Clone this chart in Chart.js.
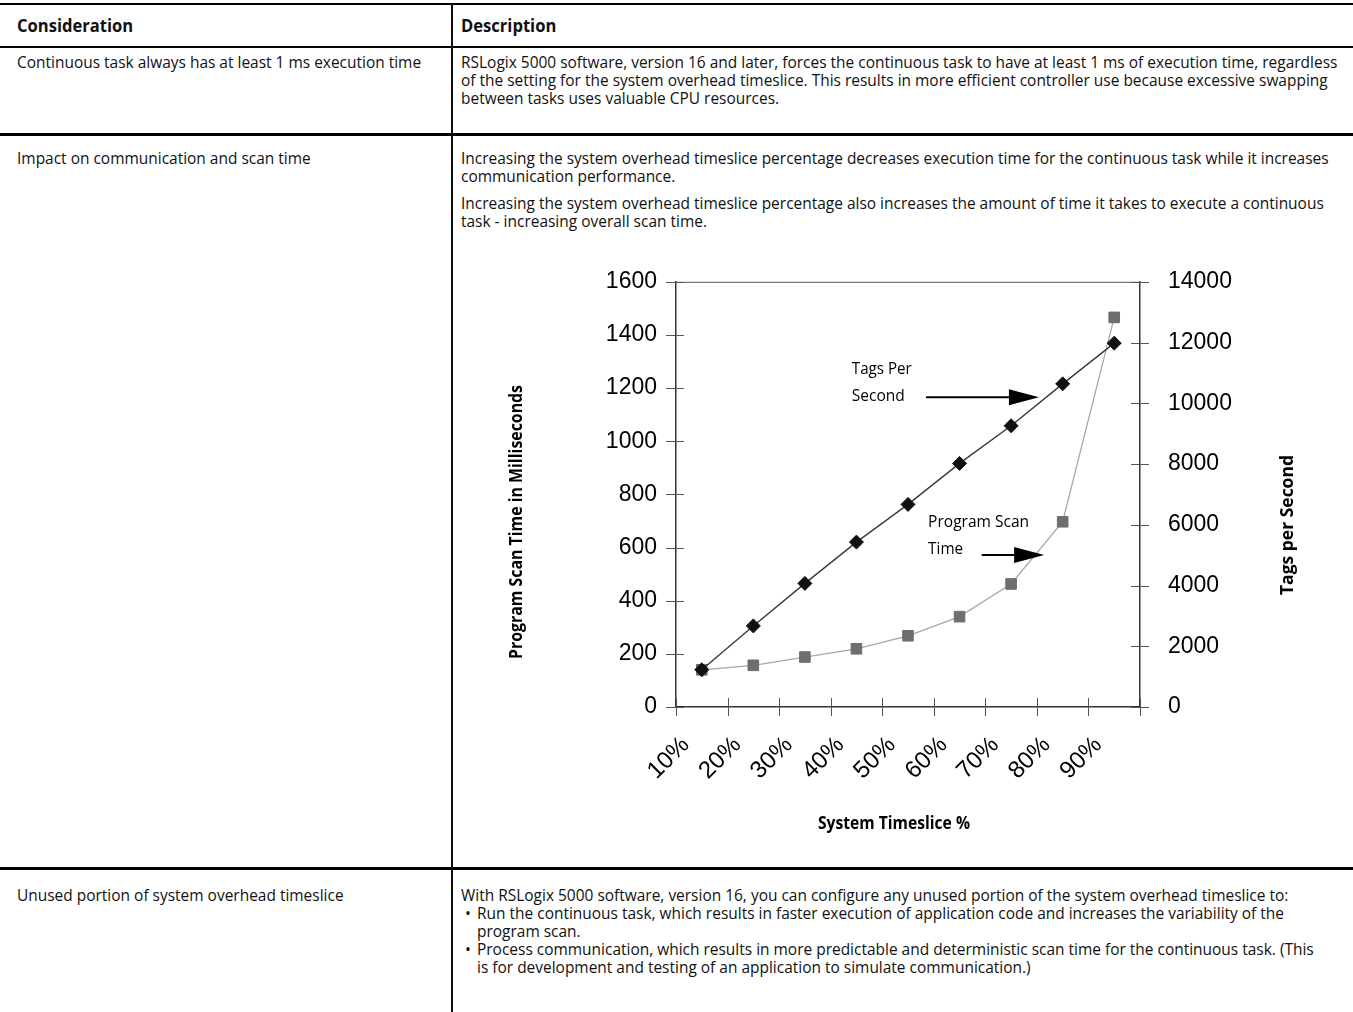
<!DOCTYPE html>
<html>
<head>
<meta charset="utf-8">
<script src="https://cdn.jsdelivr.net/npm/chart.js@4.4.0/dist/chart.umd.min.js"></script>
<style>
    body { margin: 0; background: #fff; width: 1353px; height: 1012px; position: relative; overflow: hidden;
           font-family: "Open Sans", sans-serif; font-size: 17px; color: #111; }
    .hl { position: absolute; left: 0; width: 1353px; background: #000; }
    .vl { position: absolute; left: 451px; top: 4px; width: 2px; height: 1008px; background: #111; }
    .t { position: absolute; white-space: nowrap; line-height: 18px; transform-origin: left center; }
    .b { font-weight: bold; }
    #wrap { position: absolute; left: 460px; top: 240px; width: 890px; height: 620px; }
</style>
</head>
<body>

<div class="hl" style="top:3px;height:2px"></div>
<div class="hl" style="top:46px;height:2px"></div>
<div class="hl" style="top:133px;height:3px"></div>
<div class="hl" style="top:867px;height:3px"></div>
<div class="vl"></div>

<div class="t b" id="hdr" style="left:17px;top:26px">Consideration</div>
<div class="t b" style="left:461px;top:26px">Description</div>

<div class="t" style="left:17px;top:62px">Continuous task always has at least 1 ms execution time</div>
<div class="t" id="ref" style="left:461px;top:62px">RSLogix 5000 software, version 16 and later, forces the continuous task to have at least 1 ms of execution time, regardless</div>
<div class="t" style="left:461px;top:80px">of the setting for the system overhead timeslice. This results in more efficient controller use because excessive swapping</div>
<div class="t" style="left:461px;top:98px">between tasks uses valuable CPU resources.</div>

<div class="t" style="left:17px;top:158px">Impact on communication and scan time</div>
<div class="t" style="left:461px;top:158px">Increasing the system overhead timeslice percentage decreases execution time for the continuous task while it increases</div>
<div class="t" style="left:461px;top:176px">communication performance.</div>
<div class="t" style="left:461px;top:203px">Increasing the system overhead timeslice percentage also increases the amount of time it takes to execute a continuous</div>
<div class="t" style="left:461px;top:221px">task - increasing overall scan time.</div>

<div class="t" style="left:17px;top:895px">Unused portion of system overhead timeslice</div>
<div class="t" style="left:461px;top:895px">With RSLogix 5000 software, version 16, you can configure any unused portion of the system overhead timeslice to:</div>
<div class="t" style="left:465px;top:913px">•</div>
<div class="t" style="left:477px;top:913px">Run the continuous task, which results in faster execution of application code and increases the variability of the</div>
<div class="t" style="left:477px;top:931px">program scan.</div>
<div class="t" style="left:465px;top:949px">•</div>
<div class="t" style="left:477px;top:949px">Process communication, which results in more predictable and deterministic scan time for the continuous task. (This</div>
<div class="t" style="left:477px;top:967px">is for development and testing of an application to simulate communication.)</div>

<div id="wrap"><canvas id="scanChart"></canvas></div>

<script>
const categories = ["10%", "20%", "30%", "40%", "50%", "60%", "70%", "80%", "90%"];
const tagsPerSecond = [1225, 2670, 4070, 5430, 6670, 8020, 9260, 10640, 11980];
const scanTimeMs = [140, 157, 188, 219, 268, 340, 463, 697, 1466];

const ARIAL = "'Liberation Sans', Arial, Helvetica, sans-serif";
const TICK_FONT = { family: ARIAL, size: 23 };
const TITLE_FONT = 'bold 18px "Open Sans", sans-serif';
const NOTE_FONT = '17px "Open Sans", sans-serif';

/* ---------- squeeze the table text to the narrow look of the original ---------- */
(function fitText() {
    const k = 876 / document.getElementById("ref").offsetWidth;
    const kb = 116 / document.getElementById("hdr").offsetWidth;
    document.querySelectorAll(".t").forEach(el => {
        const s = el.classList.contains("b") ? kb : k;
        el.style.transform = `translateY(-50%) scaleX(${s})`;
    });
})();

// draws text squeezed to a given width
function fitted(ctx, txt, width) {
    const w = ctx.measureText(txt).width;
    ctx.save();
    ctx.scale(width / w, 1);
    ctx.fillText(txt, 0, 0);
    ctx.restore();
}

/* ---------- frame, crossing ticks, titles, notes ---------- */
const framePlugin = {
    id: "frame",
    afterDraw(chart) {
        const ctx = chart.ctx;
        const a = chart.chartArea;
        const x = chart.scales.x, y = chart.scales.y, y2 = chart.scales.y2;

        ctx.save();
        ctx.strokeStyle = "#555";
        ctx.lineWidth = 1;

        // top border
        ctx.beginPath();
        ctx.moveTo(a.left, a.top + 0.5);
        ctx.lineTo(a.right, a.top + 0.5);
        ctx.stroke();

        // tick marks crossing the axes
        ctx.beginPath();
        for (let i = 0; i <= categories.length; i++) {
            const px = Math.round(x.getPixelForValue(i - 0.5)) + 0.5;
            ctx.moveTo(px, a.bottom - 9);
            ctx.lineTo(px, a.bottom + 9);
        }
        y.ticks.forEach((t, i) => {
            const py = Math.round(y.getPixelForTick(i)) + 0.5;
            ctx.moveTo(a.left - 10, py);
            ctx.lineTo(a.left + 8, py);
        });
        y2.ticks.forEach((t, i) => {
            const py = Math.round(y2.getPixelForTick(i)) + 0.5;
            ctx.moveTo(a.right - 9, py);
            ctx.lineTo(a.right + 9, py);
        });
        ctx.stroke();

        // axis titles
        ctx.fillStyle = "#000";
        ctx.font = TITLE_FONT;
        ctx.textAlign = "center";
        ctx.textBaseline = "middle";

        ctx.save();
        ctx.translate(434, 584);
        fitted(ctx, "System Timeslice %", 152);
        ctx.restore();

        ctx.save();
        ctx.translate(57, 282);
        ctx.rotate(-Math.PI / 2);
        fitted(ctx, "Program Scan Time in Milliseconds", 274);
        ctx.restore();

        ctx.save();
        ctx.translate(828, 285);
        ctx.rotate(-Math.PI / 2);
        fitted(ctx, "Tags per Second", 140);
        ctx.restore();

        // callouts, placed in data units
        ctx.font = NOTE_FONT;
        ctx.textAlign = "left";
        const note = (txt, xi, v, w) => {
            ctx.save();
            ctx.translate(x.getPixelForValue(xi), y.getPixelForValue(v));
            fitted(ctx, txt, w);
            ctx.restore();
        };
        note("Tags Per", 2.91, 1270, 60);
        note("Second", 2.91, 1169, 53);
        note("Program Scan", 4.39, 694, 101);
        note("Time", 4.39, 594, 35);

        const arrow = (x0, x1, v) => {
            const py = y.getPixelForValue(v);
            const p0 = x.getPixelForValue(x0), p1 = x.getPixelForValue(x1);
            ctx.strokeStyle = "#000";
            ctx.lineWidth = 2;
            ctx.beginPath();
            ctx.moveTo(p0, py);
            ctx.lineTo(p1 - 20, py);
            ctx.stroke();
            ctx.beginPath();
            ctx.moveTo(p1, py);
            ctx.lineTo(p1 - 30, py - 8);
            ctx.lineTo(p1 - 30, py + 8);
            ctx.closePath();
            ctx.fill();
        };
        arrow(4.35, 6.54, 1166);
        arrow(5.43, 6.64, 572);

        ctx.restore();
    }
};

new Chart(document.getElementById("scanChart"), {
    type: "line",
    data: {
        labels: categories,
        datasets: [
            {
                label: "Tags Per Second",
                data: tagsPerSecond,
                yAxisID: "y2",
                borderColor: "#3a3a3a",
                borderWidth: 1.4,
                pointStyle: "rectRot",
                pointRadius: 7,
                pointBackgroundColor: "#111",
                pointBorderColor: "#111",
                pointBorderWidth: 1,
                tension: 0
            },
            {
                label: "Program Scan Time",
                data: scanTimeMs,
                yAxisID: "y",
                borderColor: "#a8a8a8",
                borderWidth: 1.3,
                pointStyle: "rect",
                pointRadius: 7.5,
                pointBackgroundColor: "#6e6e6e",
                pointBorderColor: "#6e6e6e",
                pointBorderWidth: 1,
                tension: 0
            }
        ]
    },
    options: {
        responsive: true,
        maintainAspectRatio: false,
        animation: false,
        layout: { padding: { top: 36, left: 0, right: 0, bottom: 0 } },
        plugins: { legend: { display: false }, tooltip: { enabled: false } },
        scales: {
            x: {
                type: "category",
                offset: true,
                grid: { display: false, drawTicks: false },
                border: { display: true, color: "#333", width: 1.5 },
                ticks: { font: { family: ARIAL, size: 24 }, color: "#000",
                         minRotation: 45, maxRotation: 45,
                         autoSkip: false, padding: 24, labelOffset: -16 },
                afterFit: s => { s.height = 153; }
            },
            y: {
                position: "left",
                min: 0, max: 1600,
                grid: { display: false, drawTicks: false },
                border: { display: true, color: "#333", width: 1.5 },
                ticks: { stepSize: 200, font: TICK_FONT, color: "#000", padding: 19,
                         callback: v => String(v) },
                afterFit: s => { s.width = 216; }
            },
            y2: {
                position: "right",
                min: 0, max: 14000,
                grid: { display: false, drawTicks: false },
                border: { display: true, color: "#333", width: 1.5 },
                ticks: { stepSize: 2000, font: TICK_FONT, color: "#000", padding: 28,
                         callback: v => String(v) },
                afterFit: s => { s.width = 210; }
            }
        }
    },
    plugins: [framePlugin]
});
</script>
</body>
</html>
